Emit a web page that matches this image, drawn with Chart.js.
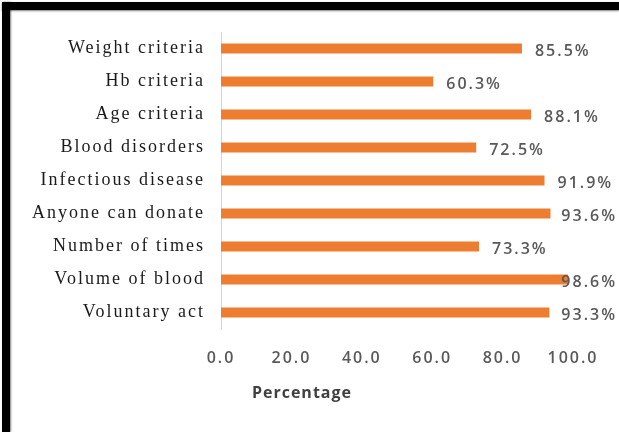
<!DOCTYPE html>
<html>
<head>
<meta charset="utf-8">
<script src="https://cdn.jsdelivr.net/npm/chart.js@4.4.1/dist/chart.umd.min.js"></script>
<style>
  html, body { margin: 0; padding: 0; background: #fff; }
  #wrap { position: relative; width: 619px; height: 432px; overflow: hidden; background: #fff; }
  #c { position: absolute; left: 0; top: 0; }
  .bt { position: absolute; left: 2px; top: 2px; width: 617px; height: 8px; background: #000; box-shadow: 0 1px 2px rgba(0,0,0,0.5); }
  .bl { position: absolute; left: 2px; top: 2px; width: 8px; height: 430px; background: #000; box-shadow: 1px 0 2px rgba(0,0,0,0.5); }
</style>
</head>
<body>
<div id="wrap">
  <canvas id="c" width="619" height="432"></canvas>
  <div class="bt"></div>
  <div class="bl"></div>
</div>
<script>
const categories = ['Weight criteria', 'Hb criteria', 'Age criteria', 'Blood disorders', 'Infectious disease', 'Anyone can donate', 'Number of times', 'Volume of blood', 'Voluntary act'];
const values = [85.5, 60.3, 88.1, 72.5, 91.9, 93.6, 73.3, 98.6, 93.3];
const xTicks = [0, 20, 40, 60, 80, 100];
const axisTitle = 'Percentage';

const spacingPlugin = {
  id: 'spacing',
  beforeLayout(chart) { chart.ctx.letterSpacing = '2px'; },
  beforeDraw(chart) { chart.ctx.letterSpacing = '2px'; }
};

const labelPlugin = {
  id: 'labels',
  afterDatasetsDraw(chart) {
    const ctx = chart.ctx;
    const meta = chart.getDatasetMeta(0);
    ctx.save();
    ctx.letterSpacing = '2px';
    ctx.font = '600 16px "Open Sans"';
    ctx.fillStyle = '#595959';
    ctx.textAlign = 'left';
    ctx.textBaseline = 'middle';
    meta.data.forEach((bar, i) => {
      const txt = values[i].toFixed(1) + '%';
      const w = ctx.measureText(txt).width;
      const x = Math.min(bar.x + 13, chart.width - 2 - w);
      ctx.fillText(txt, x, bar.y + 3);
    });
    ctx.restore();
  },
  afterDraw(chart) {
    const ctx = chart.ctx;
    const xs = chart.scales.x;
    ctx.save();
    ctx.letterSpacing = '1px';
    ctx.font = 'bold 16px "Open Sans"';
    ctx.fillStyle = '#404040';
    ctx.textAlign = 'center';
    ctx.textBaseline = 'middle';
    ctx.fillText(axisTitle, xs.getPixelForValue(23), 393);
    ctx.restore();
  }
};

new Chart(document.getElementById('c'), {
  type: 'bar',
  data: {
    labels: categories,
    datasets: [{
      data: values,
      backgroundColor: '#ED7D31',
      borderWidth: 0,
      barPercentage: 1,
      categoryPercentage: 0.3
    }]
  },
  options: {
    indexAxis: 'y',
    responsive: false,
    animation: false,
    layout: { padding: { left: 0, top: 32, right: 46, bottom: 0 } },
    plugins: { legend: { display: false }, tooltip: { enabled: false } },
    scales: {
      x: {
        min: 0, max: 100,
        afterBuildTicks: s => { s.ticks = xTicks.map(v => ({ value: v })); },
        afterFit: s => { s.height = 103; },
        grid: { display: false, drawTicks: false },
        border: { display: false },
        ticks: {
          autoSkip: false, maxRotation: 0, padding: 20,
          color: '#595959',
          font: { family: '"Open Sans"', size: 16, weight: '600' },
          callback: v => Number(v).toFixed(1)
        }
      },
      y: {
        afterFit: s => { s.width = 221; },
        grid: { display: false, drawTicks: false },
        border: { display: true, color: '#d4d4d4', width: 1 },
        ticks: {
          padding: 16,
          color: '#1a1a1a',
          font: { family: '"Liberation Serif"', size: 18 }
        }
      }
    }
  },
  plugins: [spacingPlugin, labelPlugin]
});
</script>
</body>
</html>
